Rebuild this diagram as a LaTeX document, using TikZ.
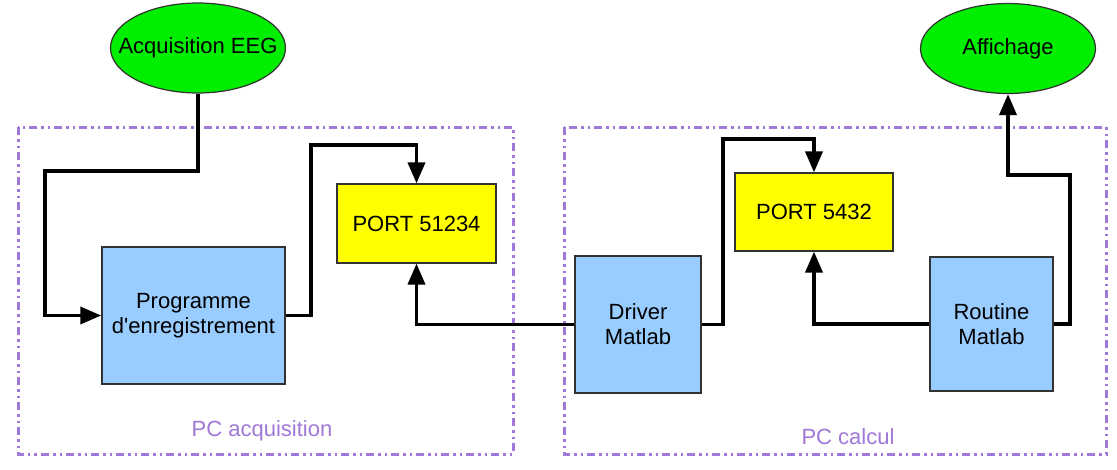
\documentclass[tikz,border=0pt]{standalone}
\usepackage{fontspec}
\setmainfont{Liberation Sans}[Ligatures=TeXOff]
\usetikzlibrary{shapes.geometric,arrows.meta}
\definecolor{eggreen}{RGB}{0,238,0}
\definecolor{bxblue}{RGB}{153,204,255}
\definecolor{bxyellow}{RGB}{255,255,0}
\definecolor{pcpurple}{RGB}{160,120,215}
\definecolor{edgegray}{RGB}{50,50,50}
\tikzset{
  ell/.style={ellipse,draw=edgegray,line width=1.2pt,fill=eggreen,inner sep=0pt,minimum width=175pt,minimum height=90pt},
  elltext/.style={inner sep=0pt,font=\fontsize{22}{25}\selectfont},
  bbox/.style={rectangle,draw=edgegray,line width=1.5pt,fill=bxblue,inner sep=0pt,align=center,font=\fontsize{22}{25}\selectfont},
  portbox/.style={rectangle,draw=edgegray,line width=1.2pt,fill=bxyellow,inner sep=0pt,font=\fontsize{22}{25}\selectfont},
  pcframe/.style={draw=pcpurple,line width=3pt,dash pattern=on 8pt off 4pt on 2.5pt off 4pt on 2.5pt off 4pt},
  pclabel/.style={text=pcpurple,font=\fontsize{22}{25}\selectfont,inner sep=0pt},
  conn/.style={draw=black,line width=3.6pt,-{Triangle[length=21pt,width=17pt]}}
}
\begin{document}
\begin{tikzpicture}[x=1pt,y=-1pt]
\useasboundingbox (0,0) rectangle (1117,469);
\fill[white] (0,0) rectangle (1117,469);
% frames
\draw[pcframe] (18,127) rectangle (513,454);
\draw[pcframe] (564,127) rectangle (1106,454);
\node[pclabel] (lacq) at (262,431) {PC acquisition};
\node[pclabel] (lcal) at (848,437) {PC calcul};
% nodes
\node[ell] (eeg) at (198,48) {};
\node[elltext] (eegt) at (eeg.center) {Acquisition EEG};
\node[ell] (aff) at (1008,48.5) {};
\node[elltext] (afft) at (aff.center) {Affichage};
\node[bbox,minimum width=183pt,minimum height=137pt] (prog) at (193.5,315.5) {Programme\\d'enregistrement};
\node[portbox,minimum width=159pt,minimum height=79pt] (p1) at (416.5,223.5) {PORT 51234};
\node[portbox,minimum width=158pt,minimum height=78pt] (p2) at (814,212) {PORT 5432};
\node[bbox,minimum width=126pt,minimum height=137pt] (drv) at (638,324.5) {Driver\\Matlab};
\node[bbox,minimum width=123pt,minimum height=134pt] (rout) at (991.5,324) {Routine\\Matlab};
% connectors
\draw[conn] (eeg.south) |- (45,171) |- (prog.west);
\draw[conn] (prog.east) -| (311,145) -| (p1.north);
\draw[conn] (drv.west) -| (p1.south);
\draw[conn] (drv.east) -| (723,139) -| (p2.north);
\draw[conn] (rout.west) -| (p2.south);
\draw[conn] (rout.east) -| (1070,175) -| (aff.south);
\end{tikzpicture}
\end{document}
